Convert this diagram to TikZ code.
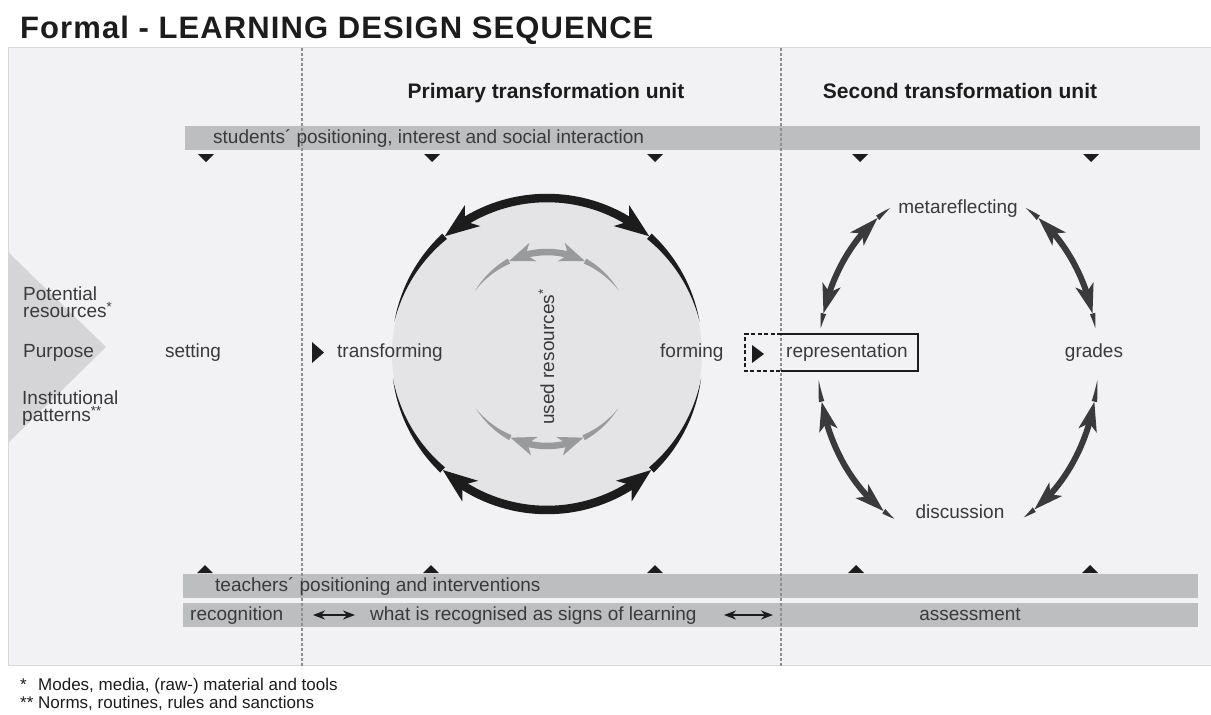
\documentclass[tikz,border=0pt]{standalone}
\usepackage{fontspec}
\setmainfont{Liberation Sans}
\newfontfamily\titlefont[LetterSpace=3.5]{Liberation Sans}
\usetikzlibrary{arrows.meta,bending}
\definecolor{panelc}{HTML}{F2F2F4}
\definecolor{panelline}{HTML}{D8D8DA}
\definecolor{barc}{HTML}{BDBEC0}
\definecolor{trianc}{HTML}{D5D5D7}
\definecolor{circc}{HTML}{E4E4E6}
\definecolor{innerc}{HTML}{999A9C}
\definecolor{darkc}{HTML}{3A3A3C}
\definecolor{txtc}{HTML}{3A3A3A}
\definecolor{headc}{HTML}{1C1C1C}
\definecolor{dotc}{HTML}{8E8E90}
\newcommand{\tailcol}{black}
\newcommand{\tailw}{3}
\newcommand{\tailarc}[7]{%
  \fill[\tailcol] plot[variable=\t, domain=#5:#6, samples=24] ({#1+(#3+(#7)/2*((#6)-\t)/((#6)-(#5)))*cos(\t)},{#2-(#4+(#7)/2*((#6)-\t)/((#6)-(#5)))*sin(\t)})
   -- plot[variable=\t, domain=#6:#5, samples=24] ({#1+(#3-(#7)/2*((#6)-\t)/((#6)-(#5)))*cos(\t)},{#2-(#4-(#7)/2*((#6)-\t)/((#6)-(#5)))*sin(\t)}) -- cycle;}
\newcommand{\dblarc}[9]{%
  \draw[#1] ({#2+#4*cos(#7)},{#3-#5*sin(#7)}) arc[start angle={-(#7)}, end angle={-(#8)}, x radius=#4, y radius=#5];
  \tailarc{#2}{#3}{#4}{#5}{#7}{#6}{\tailw}%
  \tailarc{#2}{#3}{#4}{#5}{#8}{#9}{\tailw}%
}
\begin{document}
\begin{tikzpicture}[x=1pt,y=-1pt,
  lbl/.style={font=\fontsize{19}{22}\selectfont, text=txtc, inner sep=0pt, text height=14pt, text depth=4pt},
  lbltwo/.style={font=\fontsize{19}{17}\selectfont, text=txtc, inner sep=0pt, align=left},
  head/.style={font=\bfseries\fontsize{21}{25}\selectfont, text=headc, inner sep=0pt},
  fn/.style={font=\fontsize{17}{20}\selectfont, text=headc, inner sep=0pt},
  barbox/.style={fill=barc, draw=none, inner sep=0pt},
  dotline/.style={dotc, line width=2.2pt, dash pattern=on 3pt off 2pt},
  bigarrow/.style={headc, line width=8.5pt, {Stealth[length=34pt,width=25pt,inset=9pt]}-{Stealth[length=34pt,width=25pt,inset=9pt]}},
  innerarrow/.style={innerc, line width=6.5pt, {Stealth[length=25pt,width=19pt,inset=7pt]}-{Stealth[length=25pt,width=19pt,inset=7pt]}},
  ellarrow/.style={darkc, line width=6pt, {Stealth[length=29pt,width=18pt,inset=7pt]}-{Stealth[length=29pt,width=18pt,inset=7pt]}},
  smallarrow/.style={headc, line width=1.8pt, {Stealth[length=12pt,width=9pt]}-{Stealth[length=12pt,width=9pt]}}
]
\useasboundingbox (0,0) rectangle (1211,715);
\fill[white] (0,0) rectangle (1211,715);
% panel
\fill[panelc] (8,47) rectangle (1211,665);
\draw[panelline, line width=0.8pt] (1211,47) -- (8,47) -- (8,665) -- (1211,665);
% left triangle
\fill[trianc] (8,252) -- (106,347) -- (8,443) -- cycle;
% circle
\node[circle, fill=circc, minimum size=310pt, inner sep=0pt] (circ) at (547,354) {};
% bars
\node[barbox, minimum width=1015pt, minimum height=24pt, anchor=north west] (sbar) at (185,126) {};
\node[barbox, minimum width=1015pt, minimum height=24pt, anchor=north west] (tbar) at (183,574) {};
\node[barbox, minimum width=1015pt, minimum height=24pt, anchor=north west] (rbar) at (183,603) {};
% dotted lines
\draw[dotline] (302,48) -- (302,668);
\draw[dotline] (781,48) -- (781,668);
% small triangles
\foreach \x in {206,432,655,860,1091}{\fill[headc] (\x-8,154) -- (\x+8,154) -- (\x,162) -- cycle;}
\foreach \x in {205,431,655,856,1090}{\fill[headc] (\x-8,573) -- (\x+8,573) -- (\x,565) -- cycle;}
% circle arrows
\renewcommand{\tailcol}{headc}\renewcommand{\tailw}{7}
\dblarc{bigarrow}{547}{354}{156}{156}{168}{131}{49}{12}
\dblarc{bigarrow}{547}{354}{156}{156}{-171}{-132}{-48}{-9}
\renewcommand{\tailcol}{innerc}\renewcommand{\tailw}{5.5}
\dblarc{innerarrow}{547}{349}{90}{97}{143}{115}{65}{37}
\dblarc{innerarrow}{547}{349}{90}{97}{-142}{-114}{-66}{-38}
% ellipse arrows
\renewcommand{\tailcol}{darkc}\renewcommand{\tailw}{5.5}
\dblarc{ellarrow}{958}{362}{140}{176}{169}{164}{125}{119}
\dblarc{ellarrow}{958}{362}{140}{176}{61}{55}{16}{11}
\dblarc{ellarrow}{958}{362}{140}{176}{-174}{-167}{-122}{-117}
\dblarc{ellarrow}{958}{362}{140}{176}{-6}{-13}{-57}{-62}
% small play triangles
\fill[headc] (312,342) -- (324,352.5) -- (312,363) -- cycle;
% representation boxes
\draw[headc, line width=1.3pt, dash pattern=on 4pt off 2.5pt] (781,334) -- (745,334) -- (745,371) -- (781,371);
\draw[headc, line width=1.3pt] (781,334) -- (918,334) -- (918,371) -- (781,371);
\fill[headc] (752,345) -- (764,354) -- (752,363) -- cycle;
% title and headings
\node[anchor=base west, inner sep=0pt, font=\titlefont\bfseries\fontsize{31}{36}\selectfont, text=headc] (title) at (20,38) {Formal - LEARNING DESIGN SEQUENCE};
\node[head, anchor=base] (prim) at (546,98) {Primary transformation unit};
\node[head, anchor=base] (sec) at (960,98) {Second transformation unit};
% labels
\node[lbltwo, anchor=north west] (pot) at (23,287) {Potential\\resources\textsuperscript{*}};
\node[lbl, anchor=west] (purpose) at (23,352) {Purpose};
\node[lbltwo, anchor=north west] (inst) at (22,391) {Institutional\\patterns\textsuperscript{**}};
\node[lbl] (setting) at (193,352) {setting};
\node[lbl, anchor=west] (transf) at (337,352) {transforming};
\node[lbl, anchor=west] (forming) at (660,352) {forming};
\node[lbl, anchor=west] (rep) at (786,352) {representation};
\node[lbl] (grades) at (1094,352) {grades};
\node[lbl] (meta) at (958,208) {metareflecting};
\node[lbl] (disc) at (960,513) {discussion};
\node[lbl, rotate=90] (used) at (549,357) {used resources\textsuperscript{*}};
% bar texts
\node[lbl, anchor=west] (stud) at (213,138) {students´ positioning, interest and social interaction};
\node[lbl, anchor=west] (teach) at (215,586) {teachers´ positioning and interventions};
\node[lbl, anchor=west] (recog) at (190,615) {recognition};
\node[lbl, anchor=west] (signs) at (370,615) {what is recognised as signs of learning};
\node[lbl] (assess) at (970,615) {assessment};
\coordinate (a1l) at (313,615);
\coordinate (a1r) at (355,615);
\coordinate (a2l) at (724,615);
\coordinate (a2r) at (773,615);
\draw[smallarrow] (a1l) -- (a1r);
\draw[smallarrow] (a2l) -- (a2r);
% footnotes
\node[fn, anchor=base west] (fn1) at (20,690) {\makebox[18pt][l]{*}Modes, media, (raw-) material and tools};
\node[fn, anchor=base west] (fn2) at (20,708) {\makebox[18pt][l]{**}Norms, routines, rules and sanctions};
\end{tikzpicture}
\end{document}
